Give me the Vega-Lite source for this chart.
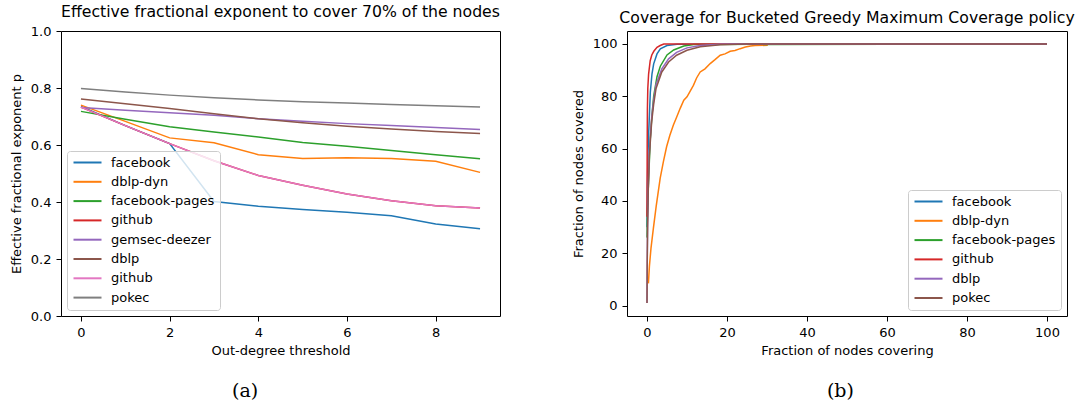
{
  "$schema": "https://vega.github.io/schema/vega-lite/v6.json",
  "background": "white",
  "padding": {"left": 9, "top": 3, "right": 0, "bottom": 0},
  "spacing": 70,
  "config": {
    "font": "DejaVu Sans",
    "view": {"stroke": "black", "strokeWidth": 1},
    "axis": {"grid": false, "domain": false, "tickColor": "black", "tickSize": 5, "labelFontSize": 13, "titleFontSize": 13, "labelColor": "black", "titleColor": "black", "titleFontWeight": "normal", "labelPadding": 5},
    "axisX": {"titlePadding": 5},
    "axisY": {"titlePadding": 7},
    "title": {"fontSize": 15.7, "fontWeight": "normal", "color": "black"},
    "legend": {"orient": "none", "fillColor": "rgba(255,255,255,0.8)", "strokeColor": "#cccccc", "cornerRadius": 3, "padding": 5, "symbolType": "M-1,0L4.6,0", "symbolStrokeWidth": 2, "symbolSize": 100, "labelFontSize": 13, "labelColor": "black", "labelOffset": 26, "rowPadding": 5.3, "title": null}
  },
  "datasets": {
    "left": [
      {"t":0,"p":0.735,"s":"facebook"},{"t":1,"p":0.668,"s":"facebook"},{"t":2,"p":0.605,"s":"facebook"},{"t":3,"p":0.402,"s":"facebook"},{"t":4,"p":0.385,"s":"facebook"},{"t":5,"p":0.374,"s":"facebook"},{"t":6,"p":0.364,"s":"facebook"},{"t":7,"p":0.352,"s":"facebook"},{"t":8,"p":0.323,"s":"facebook"},{"t":9,"p":0.306,"s":"facebook"},
      {"t":0,"p":0.740,"s":"dblp-dyn"},{"t":1,"p":0.683,"s":"dblp-dyn"},{"t":2,"p":0.625,"s":"dblp-dyn"},{"t":3,"p":0.608,"s":"dblp-dyn"},{"t":4,"p":0.566,"s":"dblp-dyn"},{"t":5,"p":0.553,"s":"dblp-dyn"},{"t":6,"p":0.555,"s":"dblp-dyn"},{"t":7,"p":0.553,"s":"dblp-dyn"},{"t":8,"p":0.543,"s":"dblp-dyn"},{"t":9,"p":0.504,"s":"dblp-dyn"},
      {"t":0,"p":0.718,"s":"facebook-pages"},{"t":1,"p":0.690,"s":"facebook-pages"},{"t":2,"p":0.664,"s":"facebook-pages"},{"t":3,"p":0.646,"s":"facebook-pages"},{"t":4,"p":0.628,"s":"facebook-pages"},{"t":5,"p":0.609,"s":"facebook-pages"},{"t":6,"p":0.596,"s":"facebook-pages"},{"t":7,"p":0.581,"s":"facebook-pages"},{"t":8,"p":0.566,"s":"facebook-pages"},{"t":9,"p":0.552,"s":"facebook-pages"},
      {"t":0,"p":0.733,"s":"github"},{"t":1,"p":0.668,"s":"github"},{"t":2,"p":0.605,"s":"github"},{"t":3,"p":0.545,"s":"github"},{"t":4,"p":0.493,"s":"github"},{"t":5,"p":0.459,"s":"github"},{"t":6,"p":0.428,"s":"github"},{"t":7,"p":0.404,"s":"github"},{"t":8,"p":0.387,"s":"github"},{"t":9,"p":0.379,"s":"github"},
      {"t":0,"p":0.732,"s":"gemsec-deezer"},{"t":1,"p":0.722,"s":"gemsec-deezer"},{"t":2,"p":0.713,"s":"gemsec-deezer"},{"t":3,"p":0.704,"s":"gemsec-deezer"},{"t":4,"p":0.692,"s":"gemsec-deezer"},{"t":5,"p":0.683,"s":"gemsec-deezer"},{"t":6,"p":0.675,"s":"gemsec-deezer"},{"t":7,"p":0.668,"s":"gemsec-deezer"},{"t":8,"p":0.661,"s":"gemsec-deezer"},{"t":9,"p":0.654,"s":"gemsec-deezer"},
      {"t":0,"p":0.761,"s":"dblp"},{"t":1,"p":0.745,"s":"dblp"},{"t":2,"p":0.728,"s":"dblp"},{"t":3,"p":0.710,"s":"dblp"},{"t":4,"p":0.692,"s":"dblp"},{"t":5,"p":0.678,"s":"dblp"},{"t":6,"p":0.666,"s":"dblp"},{"t":7,"p":0.656,"s":"dblp"},{"t":8,"p":0.647,"s":"dblp"},{"t":9,"p":0.640,"s":"dblp"},
      {"t":0,"p":0.733,"s":"github2"},{"t":1,"p":0.668,"s":"github2"},{"t":2,"p":0.605,"s":"github2"},{"t":3,"p":0.545,"s":"github2"},{"t":4,"p":0.493,"s":"github2"},{"t":5,"p":0.459,"s":"github2"},{"t":6,"p":0.428,"s":"github2"},{"t":7,"p":0.404,"s":"github2"},{"t":8,"p":0.387,"s":"github2"},{"t":9,"p":0.379,"s":"github2"},
      {"t":0,"p":0.798,"s":"pokec"},{"t":1,"p":0.786,"s":"pokec"},{"t":2,"p":0.775,"s":"pokec"},{"t":3,"p":0.766,"s":"pokec"},{"t":4,"p":0.758,"s":"pokec"},{"t":5,"p":0.752,"s":"pokec"},{"t":6,"p":0.747,"s":"pokec"},{"t":7,"p":0.742,"s":"pokec"},{"t":8,"p":0.738,"s":"pokec"},{"t":9,"p":0.733,"s":"pokec"}
    ],
    "right": [
      {"x":0,"y":30,"s":"facebook"},{"x":0.1,"y":45,"s":"facebook"},{"x":0.25,"y":58,"s":"facebook"},{"x":0.42,"y":66,"s":"facebook"},{"x":0.83,"y":81.6,"s":"facebook"},{"x":1.25,"y":88.6,"s":"facebook"},{"x":1.67,"y":92.4,"s":"facebook"},{"x":2.5,"y":96.2,"s":"facebook"},{"x":3.33,"y":98.1,"s":"facebook"},{"x":5,"y":99.4,"s":"facebook"},{"x":7.5,"y":99.9,"s":"facebook"},{"x":100,"y":100,"s":"facebook"},
      {"x":0.35,"y":8.5,"s":"dblp-dyn"},{"x":0.6,"y":15,"s":"dblp-dyn"},{"x":1,"y":22,"s":"dblp-dyn"},{"x":1.6,"y":29.6,"s":"dblp-dyn"},{"x":2.3,"y":38,"s":"dblp-dyn"},{"x":3.3,"y":48.7,"s":"dblp-dyn"},{"x":4.1,"y":55,"s":"dblp-dyn"},{"x":4.9,"y":60.7,"s":"dblp-dyn"},{"x":5.7,"y":65,"s":"dblp-dyn"},{"x":6.6,"y":69,"s":"dblp-dyn"},{"x":7.4,"y":72,"s":"dblp-dyn"},{"x":8.3,"y":75.4,"s":"dblp-dyn"},{"x":9.2,"y":78.5,"s":"dblp-dyn"},{"x":10,"y":79.8,"s":"dblp-dyn"},{"x":10.8,"y":82,"s":"dblp-dyn"},{"x":11.6,"y":84.2,"s":"dblp-dyn"},{"x":12.4,"y":87,"s":"dblp-dyn"},{"x":13.3,"y":89.3,"s":"dblp-dyn"},{"x":14.5,"y":90.5,"s":"dblp-dyn"},{"x":15.8,"y":92.5,"s":"dblp-dyn"},{"x":17,"y":94,"s":"dblp-dyn"},{"x":18.3,"y":95.7,"s":"dblp-dyn"},{"x":19.5,"y":96.2,"s":"dblp-dyn"},{"x":20.8,"y":97.2,"s":"dblp-dyn"},{"x":22,"y":97.5,"s":"dblp-dyn"},{"x":23.3,"y":98.2,"s":"dblp-dyn"},{"x":24.6,"y":98.8,"s":"dblp-dyn"},{"x":25.9,"y":99.2,"s":"dblp-dyn"},{"x":27,"y":99.4,"s":"dblp-dyn"},{"x":30.2,"y":99.5,"s":"dblp-dyn"},
      {"x":0,"y":26,"s":"facebook-pages"},{"x":0.1,"y":35,"s":"facebook-pages"},{"x":0.25,"y":42,"s":"facebook-pages"},{"x":0.42,"y":49,"s":"facebook-pages"},{"x":0.83,"y":64,"s":"facebook-pages"},{"x":1.25,"y":73,"s":"facebook-pages"},{"x":1.67,"y":80,"s":"facebook-pages"},{"x":2.5,"y":87.5,"s":"facebook-pages"},{"x":3.33,"y":91.5,"s":"facebook-pages"},{"x":5,"y":95.8,"s":"facebook-pages"},{"x":6.67,"y":97.7,"s":"facebook-pages"},{"x":9.2,"y":99.2,"s":"facebook-pages"},{"x":11.7,"y":99.8,"s":"facebook-pages"},{"x":100,"y":100,"s":"facebook-pages"},
      {"x":0,"y":34,"s":"github"},{"x":0.05,"y":62,"s":"github"},{"x":0.1,"y":75,"s":"github"},{"x":0.2,"y":83,"s":"github"},{"x":0.4,"y":88.5,"s":"github"},{"x":0.8,"y":93.6,"s":"github"},{"x":1.2,"y":95.8,"s":"github"},{"x":1.7,"y":97.2,"s":"github"},{"x":2.5,"y":98.7,"s":"github"},{"x":3.3,"y":99.4,"s":"github"},{"x":4.2,"y":100,"s":"github"},{"x":100,"y":100,"s":"github"},
      {"x":0,"y":1,"s":"dblp"},{"x":0.05,"y":16,"s":"dblp"},{"x":0.15,"y":31,"s":"dblp"},{"x":0.33,"y":46,"s":"dblp"},{"x":0.6,"y":59,"s":"dblp"},{"x":1.17,"y":72,"s":"dblp"},{"x":1.67,"y":78.5,"s":"dblp"},{"x":2.26,"y":84.5,"s":"dblp"},{"x":3.7,"y":90.5,"s":"dblp"},{"x":5.4,"y":94.3,"s":"dblp"},{"x":7.4,"y":96.8,"s":"dblp"},{"x":10,"y":98.5,"s":"dblp"},{"x":13.3,"y":99.4,"s":"dblp"},{"x":18.3,"y":99.9,"s":"dblp"},{"x":22,"y":100,"s":"dblp"},{"x":100,"y":100,"s":"dblp"},
      {"x":0,"y":1,"s":"pokec"},{"x":0.05,"y":15,"s":"pokec"},{"x":0.15,"y":30,"s":"pokec"},{"x":0.33,"y":45,"s":"pokec"},{"x":0.6,"y":57.6,"s":"pokec"},{"x":1.17,"y":70.3,"s":"pokec"},{"x":1.67,"y":77,"s":"pokec"},{"x":2.26,"y":83,"s":"pokec"},{"x":3.7,"y":89.3,"s":"pokec"},{"x":5.4,"y":93.1,"s":"pokec"},{"x":7.4,"y":95.7,"s":"pokec"},{"x":10,"y":97.6,"s":"pokec"},{"x":13.3,"y":98.9,"s":"pokec"},{"x":18.3,"y":99.7,"s":"pokec"},{"x":25,"y":100,"s":"pokec"},{"x":100,"y":100,"s":"pokec"}
    ]
  },
  "hconcat": [
    {
      "title": {"text": "(a)", "orient": "bottom", "anchor": "middle", "dx": -10, "font": "DejaVu Serif", "fontSize": 19, "fontWeight": "normal", "offset": 24},
      "vconcat": [
        {
          "width": 439,
          "height": 285,
          "title": {"text": "Effective fractional exponent to cover 70% of the nodes", "offset": 4},
          "data": {"name": "left"},
          "mark": {"type": "line", "strokeWidth": 1.5, "clip": true},
          "encoding": {
            "x": {"field": "t", "type": "quantitative", "scale": {"domain": [-0.45, 9.45], "nice": false, "zero": false}, "axis": {"values": [0, 2, 4, 6, 8], "title": "Out-degree threshold"}},
            "y": {"field": "p", "type": "quantitative", "scale": {"domain": [0, 1], "nice": false}, "axis": {"values": [0, 0.2, 0.4, 0.6, 0.8, 1.0], "format": ".1f", "title": "Effective fractional exponent p"}},
            "color": {"field": "s", "type": "nominal", "sort": null,
              "scale": {"domain": ["facebook", "dblp-dyn", "facebook-pages", "github", "gemsec-deezer", "dblp", "github2", "pokec"], "range": ["#1f77b4", "#ff7f0e", "#2ca02c", "#d62728", "#9467bd", "#8c564b", "#e377c2", "#7f7f7f"]},
              "legend": {"legendX": 6, "legendY": 120, "labelExpr": "datum.label == 'github2' ? 'github' : datum.label"}}
          }
        }
      ]
    },
    {
      "title": {"text": "(b)", "orient": "bottom", "anchor": "middle", "dx": 17, "font": "DejaVu Serif", "fontSize": 19, "fontWeight": "normal", "offset": 24},
      "vconcat": [
        {
          "width": 440,
          "height": 285,
          "title": {"text": "Coverage for Bucketed Greedy Maximum Coverage policy", "offset": 4},
          "data": {"name": "right"},
          "mark": {"type": "line", "strokeWidth": 1.5, "clip": true},
          "encoding": {
            "x": {"field": "x", "type": "quantitative", "scale": {"domain": [-5, 105], "nice": false, "zero": false}, "axis": {"values": [0, 20, 40, 60, 80, 100], "title": "Fraction of nodes covering"}},
            "y": {"field": "y", "type": "quantitative", "scale": {"domain": [-3.95, 104.95], "nice": false, "zero": false}, "axis": {"values": [0, 20, 40, 60, 80, 100], "title": "Fraction of nodes covered"}},
            "color": {"field": "s", "type": "nominal", "sort": null,
              "scale": {"domain": ["facebook", "dblp-dyn", "facebook-pages", "github", "dblp", "pokec"], "range": ["#1f77b4", "#ff7f0e", "#2ca02c", "#d62728", "#9467bd", "#8c564b"]},
              "legend": {"legendX": 281, "legendY": 159}}
          }
        }
      ]
    }
  ],
  "resolve": {"scale": {"color": "independent"}, "legend": {"color": "independent"}}
}
